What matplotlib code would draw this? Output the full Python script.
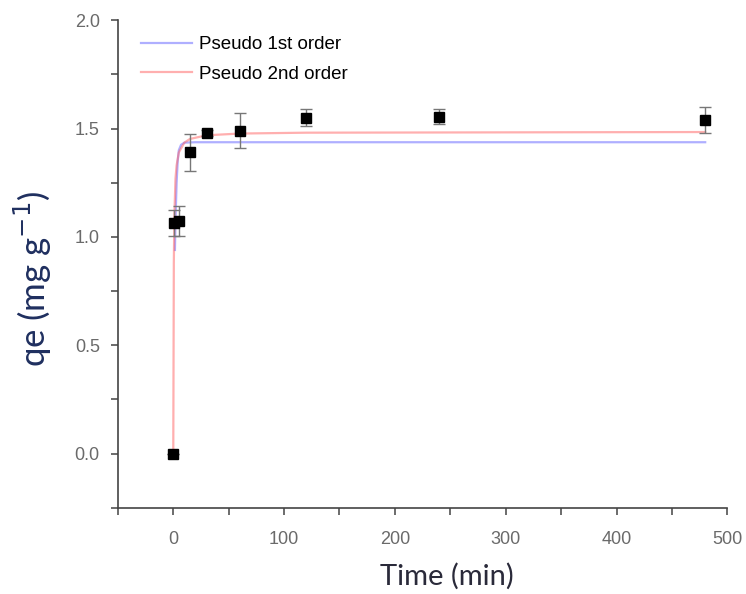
import matplotlib
matplotlib.use("Agg")
import matplotlib.pyplot as plt
from matplotlib.ticker import MultipleLocator

# measured points
time_min = [0, 1, 5, 15, 30, 60, 120, 240, 480]
qe_meas = [0.0, 1.065, 1.075, 1.39, 1.48, 1.49, 1.55, 1.555, 1.54]
qe_err = [0.0, 0.06, 0.07, 0.085, 0.015, 0.08, 0.04, 0.035, 0.06]

# fitted curves
pfo_t = [1.5, 2, 3, 4, 5, 7, 10, 20, 480]
pfo_q = [0.94, 1.08, 1.25, 1.35, 1.40, 1.425, 1.435, 1.437, 1.437]
pso_t = [0, 0.5, 1, 2, 3, 5, 10, 15, 30, 60, 120, 480]
pso_q = [0.0, 0.88, 1.10, 1.27, 1.33, 1.39, 1.435, 1.452, 1.469, 1.477, 1.481, 1.484]

fig = plt.figure(figsize=(7.46, 5.94), dpi=100)
ax = fig.add_axes([0.158, 0.145, 0.817, 0.821])

ax.plot(pfo_t, pfo_q, color='#6060ff', alpha=0.5, lw=1.6, label='Pseudo 1st order')
ax.plot(pso_t, pso_q, color='#ff6060', alpha=0.5, lw=1.6, label='Pseudo 2nd order')
ax.errorbar(time_min, qe_meas, yerr=qe_err, fmt='s', color='black', ms=7,
            ecolor='#777777', elinewidth=1, capsize=4, capthick=1, zorder=5)

ax.set_xlim(-50, 500)
ax.set_ylim(-0.25, 2.0)
ax.xaxis.set_major_locator(MultipleLocator(100))
ax.xaxis.set_minor_locator(MultipleLocator(50))
ax.yaxis.set_major_locator(MultipleLocator(0.5))
ax.yaxis.set_minor_locator(MultipleLocator(0.25))
ax.yaxis.set_major_formatter(plt.FormatStrFormatter('%.1f'))

for s in ['top', 'right']:
    ax.spines[s].set_visible(False)
for s in ['left', 'bottom']:
    ax.spines[s].set_color('#444444')
    ax.spines[s].set_linewidth(1.2)

ax.tick_params(which='both', direction='out', length=5, width=1.1, color='#444444')
ax.tick_params(which='major', labelsize=13, labelcolor='#6a6a6a')
ax.tick_params(axis='x', which='major', pad=12)
ax.tick_params(axis='y', which='major', pad=8)

for lab in ax.get_xticklabels() + ax.get_yticklabels():
    lab.set_family('Liberation Sans')

ax.set_xlabel('Time (min)', fontsize=21, color='#2a2a3a', family='Lato')
ax.set_ylabel('qe (mg g$^{-1}$)', fontsize=25, color='#1f2f5f', family='Lato')
ax.xaxis.set_label_coords(0.54, -0.113)
ax.yaxis.set_label_coords(-0.105, 0.469)

leg = ax.legend(loc='upper left', bbox_to_anchor=(0.012, 1.0), frameon=False,
                prop={'family': 'Liberation Sans', 'size': 13.5},
                handlelength=2.7, handletextpad=0.4, borderaxespad=0.45, labelspacing=0.65)
for h in leg.get_lines():
    h.set_linewidth(1.6)

fig.savefig('out.png', dpi=100, facecolor='white')
